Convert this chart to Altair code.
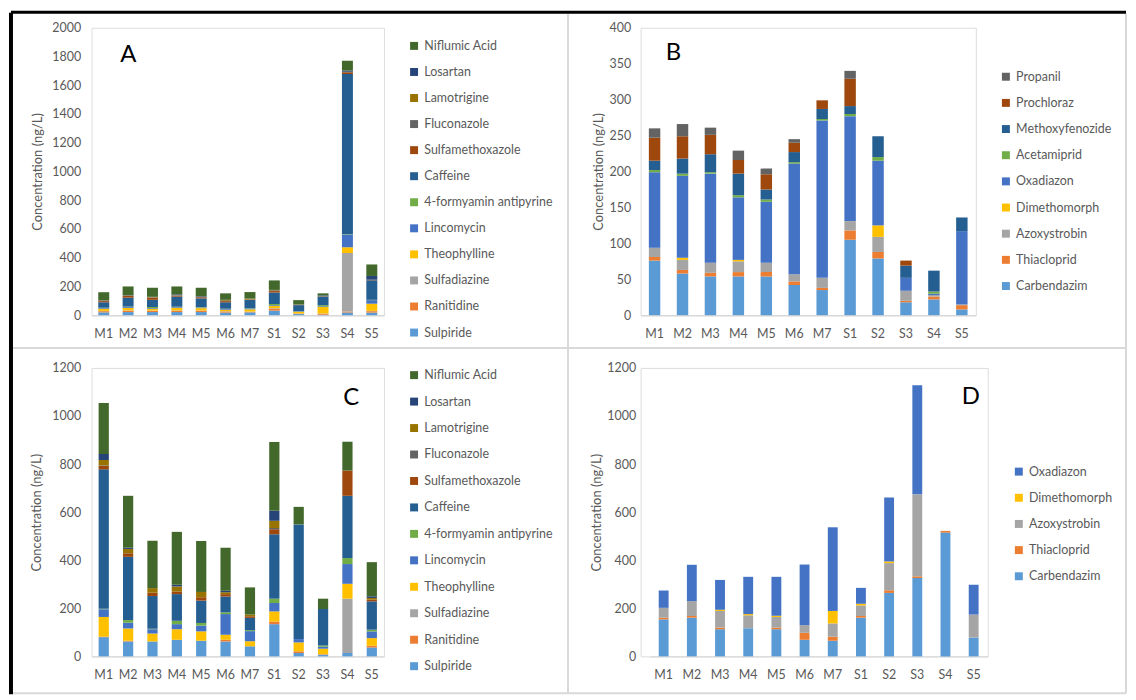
import altair as alt
import pandas as pd

sites = ["M1", "M2", "M3", "M4", "M5", "M6", "M7", "S1", "S2", "S3", "S4", "S5"]

# ---- Panel A (pharmaceuticals, set 1) : bottom -> top stacking order
a_compounds = ["Sulpiride", "Ranitidine", "Sulfadiazine", "Theophylline", "Lincomycin",
               "4-formyamin antipyrine", "Caffeine", "Sulfamethoxazole", "Fluconazole",
               "Lamotrigine", "Losartan", "Niflumic Acid"]
a_sulpiride = [20, 22, 22, 22, 22, 18, 20, 32, 8, 3, 18, 18]
a_ranitidine = [8, 9, 8, 9, 9, 8, 3, 14, 3, 7, 7, 10]
a_sulfadiazine = [2, 2, 2, 2, 2, 2, 2, 3, 1, 2, 408, 2]
a_theophylline = [14, 18, 12, 18, 16, 10, 16, 16, 12, 45, 39, 50]
a_lincomycin = [5, 6, 5, 5, 5, 5, 5, 5, 3, 5, 88, 25]
a_formyamin = [3, 3, 8, 3, 3, 2, 2, 8, 1, 8, 3, 2]
a_caffeine = [38, 62, 50, 70, 60, 45, 58, 80, 42, 60, 1115, 136]
a_sulfamethoxazole = [8, 12, 14, 6, 8, 8, 3, 10, 1, 2, 12, 2]
a_fluconazole = [2, 2, 2, 2, 2, 2, 1, 2, 1, 1, 2, 1]
a_lamotrigine = [3, 2, 3, 2, 2, 5, 5, 4, 2, 1, 2, 1]
a_losartan = [2, 2, 2, 6, 4, 2, 1, 2, 1, 4, 8, 26]
a_niflumic = [55, 60, 63, 55, 58, 45, 45, 66, 30, 14, 68, 80]

# ---- Panel C (pharmaceuticals, set 2)
c_sulpiride = [80, 62, 62, 69, 65, 62, 42, 134, 14, 7, 14, 37]
c_ranitidine = [2, 3, 0, 0, 0, 7, 0, 11, 7, 2, 0, 7]
c_sulfadiazine = [0, 0, 0, 0, 0, 0, 0, 0, 0, 0, 226, 0]
c_theophylline = [82, 51, 33, 44, 39, 21, 21, 42, 37, 23, 62, 32]
c_lincomycin = [32, 24, 18, 21, 24, 86, 42, 35, 14, 8, 82, 28]
c_formyamin = [2, 11, 2, 14, 11, 7, 4, 18, 0, 5, 25, 7]
c_caffeine = [580, 263, 136, 111, 93, 66, 51, 268, 477, 152, 259, 118]
c_sulfamethoxazole = [15, 15, 14, 11, 14, 10, 7, 21, 0, 0, 105, 7]
c_fluconazole = [2, 0, 0, 0, 0, 0, 0, 5, 0, 0, 0, 0]
c_lamotrigine = [22, 18, 19, 21, 22, 8, 7, 30, 0, 0, 0, 7]
c_losartan = [25, 5, 0, 7, 0, 6, 0, 42, 0, 0, 0, 7]
c_niflumic = [212, 216, 197, 220, 212, 179, 113, 286, 73, 43, 120, 142]

# ---- Panel B (pesticides, set 1)
b_compounds = ["Carbendazim", "Thiacloprid", "Azoxystrobin", "Dimethomorph", "Oxadiazon",
               "Acetamiprid", "Methoxyfenozide", "Prochloraz", "Propanil"]
b_carbendazim = [76, 58, 54, 54, 54, 42, 35, 105, 79, 18, 22, 8]
b_thiacloprid = [5, 5, 5, 6, 6, 5, 3, 13, 9, 2, 4, 6]
b_azoxystrobin = [13, 14, 14, 15, 13, 10, 14, 13, 21, 14, 2, 1]
b_dimethomorph = [0, 3, 0, 2, 0, 0, 0, 0, 16, 0, 0, 0]
b_oxadiazon = [105, 114, 124, 87, 85, 154, 219, 146, 90, 18, 2, 102]
b_acetamiprid = [3, 3, 2, 3, 3, 2, 2, 3, 5, 0, 3, 0]
b_methoxyfenozide = [13, 21, 25, 30, 14, 14, 14, 11, 29, 17, 29, 19]
b_prochloraz = [32, 31, 27, 19, 21, 13, 12, 38, 0, 7, 0, 0]
b_propanil = [13, 17, 10, 13, 8, 5, 0, 11, 0, 0, 0, 0]

# ---- Panel D (pesticides, set 2)
d_compounds = ["Carbendazim", "Thiacloprid", "Azoxystrobin", "Dimethomorph", "Oxadiazon"]
d_carbendazim = [154, 161, 113, 117, 113, 69, 65, 161, 264, 326, 515, 78]
d_thiacloprid = [7, 7, 7, 0, 7, 29, 17, 7, 11, 7, 7, 0]
d_azoxystrobin = [41, 62, 69, 54, 44, 32, 55, 44, 113, 341, 0, 96]
d_dimethomorph = [0, 0, 5, 5, 5, 0, 52, 7, 7, 0, 0, 0]
d_oxadiazon = [72, 151, 124, 155, 162, 252, 348, 66, 266, 454, 0, 124]

pharma_colors = ["#5B9BD5", "#ED7D31", "#A5A5A5", "#FFC000", "#4472C4", "#70AD47",
                 "#255E91", "#9E480E", "#636363", "#997300", "#264478", "#43682B"]
pest_colors = ["#5B9BD5", "#ED7D31", "#A5A5A5", "#FFC000", "#4472C4", "#70AD47",
               "#255E91", "#9E480E", "#636363"]

A_vals = [a_sulpiride, a_ranitidine, a_sulfadiazine, a_theophylline, a_lincomycin, a_formyamin,
          a_caffeine, a_sulfamethoxazole, a_fluconazole, a_lamotrigine, a_losartan, a_niflumic]
C_vals = [c_sulpiride, c_ranitidine, c_sulfadiazine, c_theophylline, c_lincomycin, c_formyamin,
          c_caffeine, c_sulfamethoxazole, c_fluconazole, c_lamotrigine, c_losartan, c_niflumic]
B_vals = [b_carbendazim, b_thiacloprid, b_azoxystrobin, b_dimethomorph, b_oxadiazon,
          b_acetamiprid, b_methoxyfenozide, b_prochloraz, b_propanil]
D_vals = [d_carbendazim, d_thiacloprid, d_azoxystrobin, d_dimethomorph, d_oxadiazon]

TXT = "#595959"
FONT = "Lato"


def long_df(compounds, vals):
    rows = []
    for i, (c, vs) in enumerate(zip(compounds, vals)):
        for s, v in zip(sites, vs):
            rows.append({"site": s, "compound": c, "value": v, "idx": i})
    return pd.DataFrame(rows)


def panel(compounds, vals, colors, ymax, ystep, width, height, pad_inner,
          lab_pad, title_pad, leg_x, leg_y, row_pad, letter, lx, ly,
          xrange=None, extra=None):
    df = long_df(compounds, vals)
    order = compounds[::-1]
    rng = colors[:len(compounds)][::-1]
    xscale = dict(paddingInner=pad_inner, paddingOuter=pad_inner / 2)
    if xrange:
        xscale["range"] = xrange
    bars = alt.Chart(df).mark_bar().encode(
        x=alt.X("site:N", sort=sites, scale=alt.Scale(**xscale),
                axis=alt.Axis(title=None, labelAngle=0, ticks=False, domainColor="#D9D9D9",
                              domainWidth=1.5, labelPadding=12, labelFontSize=12.5,
                              labelColor=TXT, labelFont=FONT)),
        y=alt.Y("value:Q", stack="zero",
                scale=alt.Scale(domain=[0, ymax], nice=False),
                axis=alt.Axis(values=list(range(0, ymax + 1, ystep)), format="d",
                              title="Concentration (ng/L)",
                              grid=False, domain=False, ticks=False, labelPadding=lab_pad,
                              labelFontSize=12.5, labelColor=TXT, labelFont=FONT,
                              titleFontSize=13, titleColor=TXT, titleFont=FONT,
                              titleFontWeight="normal", titlePadding=title_pad)),
        color=alt.Color("compound:N", scale=alt.Scale(domain=order, range=rng),
                        legend=alt.Legend(orient="none", legendX=leg_x, legendY=leg_y, title=None,
                                          symbolType="square", symbolSize=64,
                                          symbolStrokeWidth=0, labelFontSize=12.5,
                                          labelColor=TXT, labelFont=FONT, labelOffset=4,
                                          rowPadding=row_pad, direction="vertical")),
        order=alt.Order("idx:Q", sort="ascending"),
    )
    lab = alt.Chart(pd.DataFrame({"t": [letter]})).mark_text(
        fontSize=24, font=FONT, color="black", align="center", baseline="alphabetic"
    ).encode(text="t:N", x=alt.value(lx), y=alt.value(ly))
    layers = [bars, lab]
    if extra:
        layers += extra
    return alt.layer(*layers).properties(width=width, height=height)


# frame lines (drawn relative to panel A's plot area, origin at page (91, 25));
# kept inside the box whose top-left corner is (-83, -17) so the page origin stays fixed
one = pd.DataFrame({"k": [0]})
frame = [
    alt.Chart(one).mark_rule(color="#D9D9D9", strokeWidth=2).encode(
        x=alt.value(-79), x2=alt.value(1040), y=alt.value(322)),
    alt.Chart(one).mark_rule(color="#D9D9D9", strokeWidth=2).encode(
        x=alt.value(-79), x2=alt.value(1040), y=alt.value(669)),
    alt.Chart(one).mark_rule(color="#D9D9D9", strokeWidth=2).encode(
        x=alt.value(479), y=alt.value(-14), y2=alt.value(669)),
    alt.Chart(one).mark_rule(color="#D9D9D9", strokeWidth=2).encode(
        x=alt.value(1040), y=alt.value(-14), y2=alt.value(669)),
    alt.Chart(one).mark_rule(color="black", strokeWidth=4).encode(
        x=alt.value(-81), y=alt.value(-15), y2=alt.value(670)),
    alt.Chart(one).mark_rule(color="black", strokeWidth=3).encode(
        x=alt.value(-81), x2=alt.value(1040), y=alt.value(-15.5)),
]

A = panel(a_compounds, A_vals, pharma_colors, 2000, 200, 294, 289, 0.55,
          11, 7, 318, 12, 13.2, "A", 37, 34, extra=frame)
B = panel(b_compounds, B_vals, pest_colors, 400, 50, 337, 289, 0.59,
          10, 4, 361, 43, 13.3, "B", 33, 32)
C = panel(a_compounds, C_vals, pharma_colors, 1200, 200, 294, 290, 0.58,
          11, 8, 318, 1, 13.6, "C", 261, 37)
D = panel(d_compounds, D_vals, pest_colors, 1200, 200, 349, 290, 0.65,
          5, 3, 374, 98, 13.3, "D", 332, 36, xrange=[9, 349])

res = dict(color="independent", x="independent", y="independent")
chart = alt.concat(
    A, B, C, D, columns=2, spacing={"row": 53, "column": 258}, bounds="flush", align="each"
).resolve_scale(**res).resolve_legend(color="independent").properties(
    padding=0
).configure_view(stroke=None).configure(font=FONT)

chart.save("out.html", embed_options={"renderer": "svg", "actions": False})
